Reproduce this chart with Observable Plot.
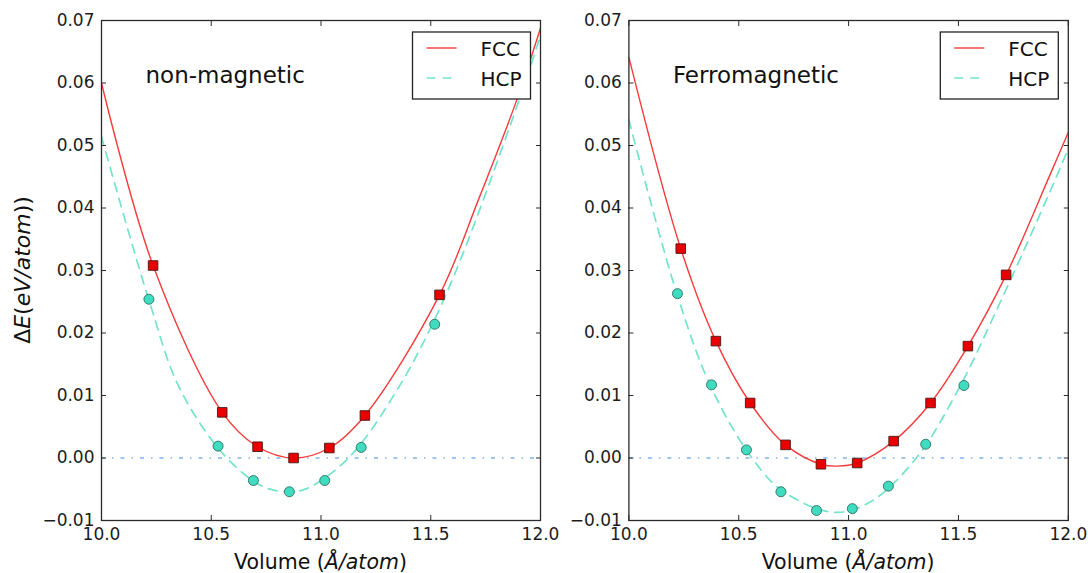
<!DOCTYPE html>
<html>
<head>
<meta charset="utf-8">
<script src="https://cdn.jsdelivr.net/npm/d3@7"></script>
<script src="https://cdn.jsdelivr.net/npm/@observablehq/plot@0.6"></script>
<style>
  html, body { margin: 0; padding: 0; background: white; }
  #wrap { position: relative; width: 1088px; height: 573px; overflow: hidden; }
  #wrap svg { position: absolute; top: 0; }
</style>
</head>
<body>
<div id="wrap"></div>
<script>
// ---------- data ----------
const seriesNames = ["FCC", "HCP"];
const panelTitles = ["non-magnetic", "Ferromagnetic"];
const xTicks = [10.0, 10.5, 11.0, 11.5, 12.0];
const yTicks = [-0.01, 0.00, 0.01, 0.02, 0.03, 0.04, 0.05, 0.06, 0.07];

// non-magnetic: computed points
const nmFccV = [10.235, 10.55, 10.711, 10.875, 11.038, 11.20, 11.54];
const nmFccE = [0.0308, 0.0073, 0.0018, 0.0000, 0.0016, 0.0068, 0.0261];
const nmHcpV = [10.216, 10.531, 10.692, 10.856, 11.017, 11.183, 11.518];
const nmHcpE = [0.0254, 0.0019, -0.0036, -0.0054, -0.0036, 0.0017, 0.0214];
// non-magnetic: fitted curves
const nmFccFitV = [10.0, 10.235, 10.55, 10.711, 10.875, 11.038, 11.20, 11.54, 11.717, 11.892, 12.0];
const nmFccFitE = [0.0600, 0.0308, 0.0073, 0.0018, 0.0000, 0.0016, 0.0068, 0.0261, 0.0413, 0.0573, 0.0688];
const nmHcpFitV = [10.0, 10.214, 10.358, 10.571, 10.738, 10.852, 10.935, 11.125, 11.345, 11.565, 11.892, 12.0];
const nmHcpFitE = [0.0514, 0.0255, 0.0110, 0.0000, -0.0046, -0.0054, -0.0049, 0.0000, 0.0108, 0.0258, 0.0562, 0.0676];

// ferromagnetic: computed points
const fmFccV = [10.236, 10.396, 10.552, 10.713, 10.874, 11.039, 11.205, 11.373, 11.543, 11.717];
const fmFccE = [0.0335, 0.0187, 0.0088, 0.0021, -0.0010, -0.0008, 0.0027, 0.0088, 0.0179, 0.0293];
const fmHcpV = [10.221, 10.376, 10.535, 10.692, 10.854, 11.017, 11.181, 11.351, 11.525];
const fmHcpE = [0.0263, 0.0117, 0.0013, -0.0054, -0.0084, -0.0081, -0.0045, 0.0022, 0.0116];
// ferromagnetic: fitted curves
const fmFccFitV = [10.0, 10.236, 10.396, 10.552, 10.713, 10.874, 10.95, 11.039, 11.205, 11.373, 11.543, 11.717, 11.919, 12.0];
const fmFccFitE = [0.0641, 0.0335, 0.0187, 0.0088, 0.0021, -0.0010, -0.0013, -0.0008, 0.0027, 0.0088, 0.0179, 0.0293, 0.0455, 0.0521];
const fmHcpFitV = [10.0, 10.218, 10.376, 10.560, 10.700, 10.934, 11.100, 11.308, 11.500, 11.691, 11.919, 12.0];
const fmHcpFitE = [0.0541, 0.0263, 0.0112, 0.0000, -0.0053, -0.0087, -0.0070, 0.0000, 0.0110, 0.0250, 0.0428, 0.0495];

// ---------- styles ----------
const FCC_LINE = "#f53b3b";
const HCP_LINE = "#72e4cb";
const FCC_FILL = "#e80000";
const HCP_FILL = "#3fdcc0";
const ZERO_LINE = "#7fb3e5";
const AXIS = "#2a2a2a";
const FONT = "DejaVu Sans, Bitstream Vera Sans, sans-serif";

const zip = (xs, ys) => xs.map((v, i) => ({v, e: ys[i]}));
const fx = d3.format(".1f");
const fy = d3.format(".2f");

function panel(opts) {
  const {width, left, marginLeft, marginRight, title, yLabel,
         fccV, fccE, hcpV, hcpE, fccFitV, fccFitE, hcpFitV, hcpFitE} = opts;
  const marginTop = 20, marginBottom = 53, height = 573;
  const svg = Plot.plot({
    width, height, marginTop, marginBottom, marginLeft, marginRight,
    x: {domain: [10, 12]},
    y: {domain: [-0.01, 0.07]},
    style: {fontFamily: FONT, fontSize: "17px", color: "#1c1c1c", background: "white", overflow: "visible"},
    marks: [
      Plot.ruleY([0], {stroke: ZERO_LINE, strokeWidth: 1.6, strokeDasharray: "4,7,1.5,7"}),
      Plot.line(zip(hcpFitV, hcpFitE), {x: "v", y: "e", stroke: HCP_LINE, strokeWidth: 1.7, strokeDasharray: "9,7", curve: "catmull-rom", clip: true}),
      Plot.line(zip(fccFitV, fccFitE), {x: "v", y: "e", stroke: FCC_LINE, strokeWidth: 1.4, curve: "catmull-rom", clip: true}),
      Plot.dot(zip(hcpV, hcpE), {x: "v", y: "e", r: 5, fill: HCP_FILL, stroke: "#2e6f64", strokeWidth: 0.9}),
      Plot.dot(zip(fccV, fccE), {x: "v", y: "e", symbol: "square", r: 5.4, fill: FCC_FILL, stroke: "#4a1515", strokeWidth: 0.9}),
      Plot.frame({stroke: AXIS, strokeWidth: 1.3}),
      Plot.axisX(xTicks, {anchor: "bottom", tickSize: -5, tickPadding: 12, tickFormat: fx, label: null, stroke: AXIS}),
      Plot.axisX(xTicks, {anchor: "top", tickSize: -5, tickFormat: () => "", label: null, stroke: AXIS}),
      Plot.axisY(yTicks, {anchor: "left", tickSize: -5, tickPadding: 12, tickFormat: fy, label: null, stroke: AXIS}),
      Plot.axisY(yTicks, {anchor: "right", tickSize: -5, tickFormat: () => "", label: null, stroke: AXIS})
    ]
  });
  svg.style.left = left + "px";
  const s = d3.select(svg);
  const plotLeft = marginLeft, plotRight = width - marginRight;

  // panel annotation
  s.append("text").attr("x", plotLeft + 44.5).attr("y", 83).attr("text-anchor", "start")
    .attr("font-family", FONT).attr("font-size", 23).attr("fill", "#111").text(title);

  // x label
  const xl = s.append("text").attr("x", (plotLeft + plotRight) / 2).attr("y", 569)
    .attr("text-anchor", "middle").attr("font-family", FONT).attr("font-size", 20.5).attr("fill", "#111");
  xl.append("tspan").text("Volume (");
  xl.append("tspan").attr("font-style", "italic").text("Å/atom");
  xl.append("tspan").text(")");

  // y label
  if (yLabel) {
    const yl = s.append("text").attr("transform", "translate(30,270) rotate(-90)")
      .attr("text-anchor", "middle").attr("font-family", FONT).attr("font-size", 22).attr("fill", "#111");
    yl.append("tspan").text("Δ");
    yl.append("tspan").attr("font-style", "italic").text("E");
    yl.append("tspan").text("(");
    yl.append("tspan").attr("font-style", "italic").text("eV/atom");
    yl.append("tspan").text("))");
  }

  // legend
  const lw = 118, lh = 67, top = 32;
  const x0 = plotRight - 9.5 - lw;
  const g = s.append("g");
  g.append("rect").attr("x", x0).attr("y", top).attr("width", lw).attr("height", lh)
    .attr("fill", "white").attr("stroke", "#222").attr("stroke-width", 1.3);
  const rows = [
    {name: seriesNames[0], stroke: FCC_LINE, dash: null, w: 1.4},
    {name: seriesNames[1], stroke: HCP_LINE, dash: "9,7", w: 1.7}
  ];
  rows.forEach((r, i) => {
    const ly = top + 16 + i * 30;
    g.append("line").attr("x1", x0 + 14).attr("x2", x0 + 44).attr("y1", ly).attr("y2", ly)
      .attr("stroke", r.stroke).attr("stroke-width", r.w).attr("stroke-dasharray", r.dash);
    g.append("text").attr("x", x0 + 68).attr("y", ly + 7.5).attr("text-anchor", "start")
      .attr("font-family", FONT).attr("font-size", 20).attr("fill", "#111").text(r.name);
  });
  return svg;
}

const wrap = document.getElementById("wrap");
wrap.appendChild(panel({
  width: 560, left: 0, marginLeft: 101, marginRight: 20, title: panelTitles[0], yLabel: true,
  fccV: nmFccV, fccE: nmFccE, hcpV: nmHcpV, hcpE: nmHcpE,
  fccFitV: nmFccFitV, fccFitE: nmFccFitE, hcpFitV: nmHcpFitV, hcpFitE: nmHcpFitE
}));
wrap.appendChild(panel({
  width: 528, left: 560, marginLeft: 68.4, marginRight: 20.2, title: panelTitles[1], yLabel: false,
  fccV: fmFccV, fccE: fmFccE, hcpV: fmHcpV, hcpE: fmHcpE,
  fccFitV: fmFccFitV, fccFitE: fmFccFitE, hcpFitV: fmHcpFitV, hcpFitE: fmHcpFitE
}));
</script>
</body>
</html>
